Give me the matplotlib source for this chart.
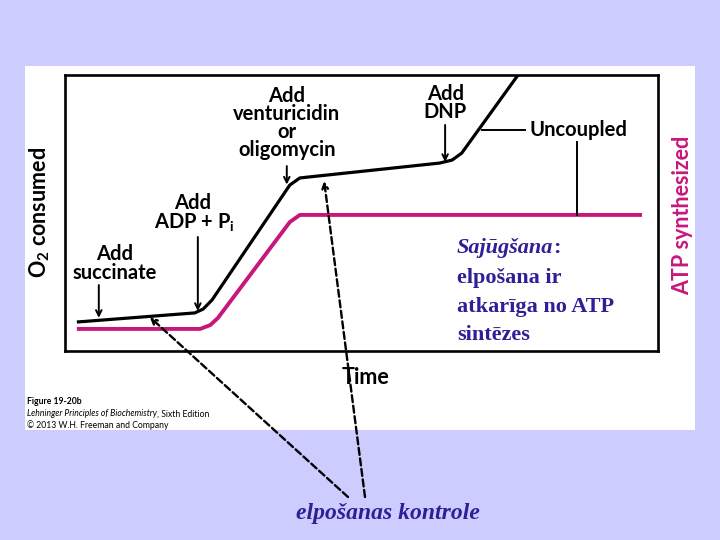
import matplotlib.pyplot as plt
from matplotlib.patches import Rectangle

# time (0-100) and level (0-100) inside the plot box
o2_time = [2.0, 21.9, 23.3, 24.8, 37.9, 39.6, 63.2, 65.3, 66.9, 76.4]
o2_level = [10.5, 13.8, 15.2, 18.5, 60.1, 62.7, 68.1, 69.2, 71.7, 100.0]
atp_time = [2.0, 22.8, 24.5, 25.8, 37.9, 39.6, 97.3]
atp_level = [8.0, 8.0, 9.4, 12.0, 46.7, 49.3, 49.3]

BG = '#CCCCFF'
MAGENTA = '#C8177B'
BLUE = '#2E1F96'
W, H = 720, 540

plt.rcParams['font.family'] = ['Lato', 'DejaVu Sans']

fig = plt.figure(figsize=(7.2, 5.4), dpi=100, facecolor=BG)

# background layer in pixel coordinates
bg = fig.add_axes([0, 0, 1, 1])
bg.set_xlim(0, W)
bg.set_ylim(H, 0)
bg.axis('off')
bg.add_patch(Rectangle((25, 66), 670, 364, facecolor='white', edgecolor='none'))

bg.text(40, 212, 'O$_\\mathregular{2}$ consumed', rotation=90, ha='center', va='center',
        fontsize=15.5, fontweight='bold')
bg.text(683, 215, 'ATP synthesized', rotation=90, ha='center', va='center',
        fontsize=15.5, fontweight='bold', color=MAGENTA)
bg.text(365, 378, 'Time', ha='center', va='center', fontsize=15.5, fontweight='bold')

cap = 6.2
bg.text(27, 402, 'Figure 19-20b', fontsize=cap, fontweight='bold', va='center')
t1 = bg.text(27, 414, 'Lehninger Principles of Biochemistry', fontsize=cap,
             style='italic', va='center')
r = fig.canvas.get_renderer()
bb = t1.get_window_extent(renderer=r)
bg.text(27 + bb.width, 414, ', Sixth Edition', fontsize=cap, va='center')
bg.text(27, 425, '\u00a9 2013 W.H. Freeman and Company', fontsize=cap, va='center')

bg.text(388, 513, 'elpošanas kontrole', ha='center', va='center', fontsize=17,
        family='Liberation Serif', style='italic', fontweight='bold', color=BLUE)

# main plot box
ax = fig.add_axes([65 / W, (H - 351) / H, 593 / W, 276 / H])
ax.set_facecolor('none')
ax.set_xlim(0, 100)
ax.set_ylim(0, 100)
ax.set_xticks([])
ax.set_yticks([])
for s in ax.spines.values():
    s.set_linewidth(1.9)

ax.plot(atp_time, atp_level, color=MAGENTA, lw=2.8, solid_capstyle='butt')
ax.plot(o2_time, o2_level, color='black', lw=2.3, solid_capstyle='butt', clip_on=True)

arrow = dict(arrowstyle='->', color='black', lw=1.4, shrinkA=0, shrinkB=0)
fs = 14.5
ax.annotate('', xy=(5.7, 12.0), xytext=(5.7, 23.9), arrowprops=arrow)
ax.text(8.4, 31.7, 'Add\nsuccinate', ha='center', va='center', fontsize=fs,
        fontweight='bold', linespacing=0.95)

ax.annotate('', xy=(22.4, 14.5), xytext=(22.4, 41.3), arrowprops=arrow)
ax.text(21.6, 53.6, 'Add', ha='center', va='center', fontsize=fs, fontweight='bold')
ax.text(21.9, 46.4, 'ADP + P$_\\mathregular{i}$', ha='center', va='center', fontsize=fs,
        fontweight='bold')

ax.annotate('', xy=(37.4, 60.3), xytext=(37.4, 67.0), arrowprops=arrow)
ax.text(37.4, 82.6, 'Add\nventuricidin\nor\noligomycin', ha='center', va='center',
        fontsize=fs, fontweight='bold', linespacing=0.88)

ax.annotate('', xy=(64.1, 68.5), xytext=(64.1, 81.9), arrowprops=arrow)
ax.text(64.1, 89.9, 'Add\nDNP', ha='center', va='center', fontsize=fs,
        fontweight='bold', linespacing=0.9)

ax.plot([70.3, 77.6], [80.1, 80.1], color='black', lw=1.4)
ax.plot([86.3, 86.3], [75.7, 49.3], color='black', lw=1.4)
ax.text(78.4, 80.1, 'Uncoupled', ha='left', va='center', fontsize=fs, fontweight='bold')

# serif note
note_y = [248, 278, 307, 335]
sx = 457
nfs = 16
t2 = bg.text(sx, note_y[0], 'Sajūgšana', family='Liberation Serif', style='italic',
             fontweight='bold', fontsize=nfs, color=BLUE, va='center', zorder=5)
bb2 = t2.get_window_extent(renderer=r)
bg.text(sx + bb2.width, note_y[0], ':', family='Liberation Serif', fontweight='bold',
        fontsize=nfs, color=BLUE, va='center', zorder=5)
for line, yy in zip(['elpošana ir', 'atkarīga no ATP', 'sintēzes'], note_y[1:]):
    bg.text(sx, yy, line, family='Liberation Serif', fontweight='bold', fontsize=nfs,
            color=BLUE, va='center', zorder=5)

# dashed pointers from the bottom label
dash = dict(arrowstyle='->', color='black', lw=1.7, linestyle=(0, (3, 1.5)),
            shrinkA=0, shrinkB=0)
ax.annotate('', xy=(14.3, 12.3), xytext=(348, H - 497), textcoords='figure pixels',
            arrowprops=dash, annotation_clip=False)
ax.annotate('', xy=(43.7, 61.6), xytext=(365, H - 497), textcoords='figure pixels',
            arrowprops=dash, annotation_clip=False)

fig.savefig('out.png', dpi=100, facecolor=BG)
